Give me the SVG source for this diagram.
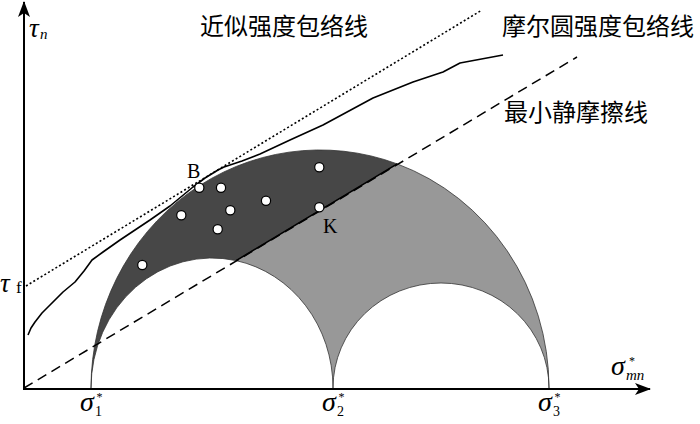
<svg xmlns="http://www.w3.org/2000/svg" width="700" height="424" viewBox="0 0 700 424">
<style>
.axis{stroke:#000;stroke-width:2;fill:none}
.cn{font-family:"Noto Sans CJK SC","Noto Sans",sans-serif;font-size:24px;fill:#000}
.sym{font-family:"Liberation Serif","Times New Roman",serif;fill:#000}
.it{font-style:italic}
.dot{fill:#fff;stroke:#000;stroke-width:1.2}
</style>
<defs>
<marker id="arr" viewBox="0 0 16 12" refX="15" refY="6" markerWidth="16" markerHeight="12" markerUnits="userSpaceOnUse" orient="auto">
<path d="M16,6 L0,0 L4,6 L0,12 Z" fill="#000"/>
</marker>
</defs>
<rect width="700" height="424" fill="#fff"/>
<g id="regions">
<path id="dark" d="M91 388 A229 238 0 0 1 397.2 163.9 L236.1 260.6 A121 130 0 0 0 91 388 Z" fill="#474747" stroke="#333" stroke-width="0.8"/>
<path id="light" d="M397.2 163.9 A229 238 0 0 1 549 388 A108 105 0 0 0 333 388 A121 130 0 0 0 236.1 260.6 Z" fill="#989898" stroke="#333" stroke-width="0.8"/>
</g>
<g id="connectors">
<line x1="24" y1="389" x2="24" y2="2" class="axis" marker-end="url(#arr)"/>
<line x1="23" y1="389" x2="650" y2="389" class="axis" marker-end="url(#arr)"/>
<line id="dashed" x1="24" y1="388" x2="577" y2="57" stroke="#000" stroke-width="1.5" stroke-dasharray="10 6"/>
<line id="kline" x1="236.1" y1="260.6" x2="397.2" y2="163.9" stroke="#000" stroke-width="1.5"/>
<line id="dotted" x1="26" y1="286" x2="482" y2="10" stroke="#000" stroke-width="1.6" stroke-dasharray="2 2.3"/>
<polyline id="mohr" points="28,335 31,328 35,322 42,313 50,305 63,292 75,282 84,271 92,260 103,252 120,240 135,230 150,220 170,206 193,187 205,178 218,170 224,167 242,161 260,154 290,140 323,125 373,98 413,82 443,72 460,63 503,55" fill="none" stroke="#000" stroke-width="1.6" stroke-linejoin="round"/>
</g>
<g id="points">
<circle class="dot" cx="319.3" cy="167.3" r="4.6"/>
<circle class="dot" cx="199.3" cy="187.7" r="4.6"/>
<circle class="dot" cx="221" cy="187.7" r="4.6"/>
<circle class="dot" cx="266" cy="200.7" r="4.6"/>
<circle class="dot" cx="181.3" cy="215.3" r="4.6"/>
<circle class="dot" cx="230.3" cy="210.3" r="4.6"/>
<circle class="dot" cx="319.3" cy="207.3" r="4.6"/>
<circle class="dot" cx="217.7" cy="229.3" r="4.6"/>
<circle class="dot" cx="142.3" cy="265" r="4.6"/>
</g>
<g id="labels">
<text class="cn" x="200" y="34.5">近似强度包络线</text>
<text class="cn" x="502" y="34.5">摩尔圆强度包络线</text>
<text class="cn" x="504" y="121">最小静摩擦线</text>
<text class="sym" x="187" y="178" font-size="20">B</text>
<text class="sym" x="323" y="233" font-size="20">K</text>
<text class="sym it" x="29" y="37" font-size="27">τ</text>
<text class="sym it" x="40" y="39" font-size="15">n</text>
<text class="sym it" x="0" y="292" font-size="27">τ</text>
<text class="sym" x="16" y="293" font-size="17">f</text>
<text class="sym it" x="611" y="375" font-size="28">σ</text>
<text class="sym it" x="626" y="380" font-size="15">mn</text>
<text class="sym" x="629" y="364.5" font-size="12">*</text>
<text class="sym it" x="80" y="411" font-size="28">σ</text>
<text class="sym" x="95" y="415.5" font-size="14">1</text>
<text class="sym" x="96.5" y="401" font-size="12">*</text>
<text class="sym it" x="322" y="411" font-size="28">σ</text>
<text class="sym" x="337" y="415.5" font-size="14">2</text>
<text class="sym" x="338.5" y="401" font-size="12">*</text>
<text class="sym it" x="538" y="411" font-size="28">σ</text>
<text class="sym" x="553" y="415.5" font-size="14">3</text>
<text class="sym" x="554.5" y="401" font-size="12">*</text>
</g>
</svg>
